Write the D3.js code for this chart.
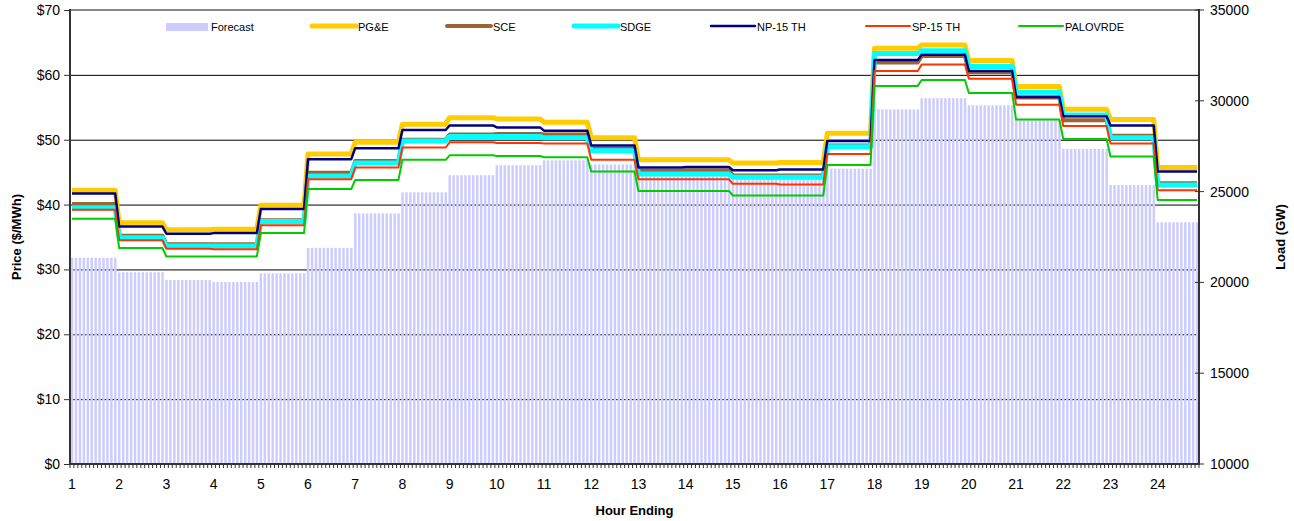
<html>
<head>
<meta charset="utf-8">
<title>Hourly prices</title>
<script src="https://d3js.org/d3.v7.min.js"></script>
<style>
  body { margin: 0; background: #fff; }
  text { font-family: "Liberation Sans", Arial, sans-serif; fill: #000; }
</style>
</head>
<body>
<div id="chart"></div>
<script>
// hourly values (hour ending 1..24)
var hours = d3.range(1, 25);
var forecast = [21360, 20560, 20130, 20020, 20500, 21900, 23800, 24960, 25900, 26450, 26720, 26500,
                26000, 25900, 25800, 25800, 26260, 29530, 30140, 29750, 28940, 27350, 25360, 23310];
var pge  = [42.2, 37.2, 36.1, 36.2, 39.9, 47.8, 49.6, 52.4, 53.4, 53.2, 52.7, 50.3, 46.9, 46.9, 46.4, 46.5, 51.0, 64.1, 64.6, 62.2, 58.2, 54.7, 53.1, 45.7];
var sce  = [40.1, 35.2, 33.9, 33.9, 37.6, 44.9, 46.7, 50.0, 50.8, 50.9, 50.8, 48.6, 45.2, 45.3, 44.5, 44.5, 49.1, 61.9, 62.9, 60.4, 56.5, 53.0, 50.6, 43.3];
var sdge = [39.5, 34.9, 33.6, 33.6, 37.4, 44.4, 46.4, 49.8, 50.5, 50.5, 50.3, 48.3, 44.7, 44.7, 44.2, 44.2, 48.9, 63.3, 63.7, 61.3, 57.3, 53.8, 50.3, 43.0];
var np15 = [41.7, 36.6, 35.5, 35.6, 39.3, 47.0, 48.7, 51.5, 52.2, 51.9, 51.4, 49.1, 45.7, 45.8, 45.3, 45.4, 49.8, 62.3, 63.1, 60.6, 56.6, 53.6, 52.2, 45.1];
var sp15 = [39.2, 34.5, 33.2, 33.1, 36.8, 43.9, 45.7, 48.8, 49.6, 49.5, 49.4, 46.9, 43.9, 43.9, 43.2, 43.1, 47.8, 60.6, 61.6, 59.4, 55.4, 52.1, 49.4, 42.2];
var palo = [37.8, 33.3, 32.0, 32.0, 35.6, 42.4, 43.8, 46.9, 47.6, 47.5, 47.3, 45.1, 42.1, 42.1, 41.4, 41.4, 46.1, 58.3, 59.2, 57.2, 53.1, 50.1, 47.4, 40.7];
var priceTicks = [0, 10, 20, 30, 40, 50, 60, 70];
var loadTicks = [10000, 15000, 20000, 25000, 30000, 35000];

var series = [
    {name: "PG&E",     values: pge,  color: "#ffcc00", width: 5},
    {name: "SCE",      values: sce,  color: "#996633", width: 4},
    {name: "SDGE",     values: sdge, color: "#00ffff", width: 5},
    {name: "NP-15 TH", values: np15, color: "#000080", width: 2.5},
    {name: "SP-15 TH", values: sp15, color: "#ff3300", width: 2},
    {name: "PALOVRDE", values: palo, color: "#00cc00", width: 2}
];

// the chart is laid out in 5 minute slots, 12 per hour (last hour has 11)
var nSlots = 287;
function hourOf(i) { return Math.floor(i / 12); }

var width = 1294, height = 521;
var plotL = 70, plotR = 1199, plotT = 10, plotB = 464;

var svg = d3.select("#chart").append("svg").attr("width", width).attr("height", height);

var x = d3.scaleLinear().domain([0, nSlots]).range([plotL, plotR]);
var y = d3.scaleLinear().domain([0, 70]).range([plotB, plotT]);
var y2 = d3.scaleLinear().domain([10000, 35000]).range([plotB, plotT]);

// gridlines (bars are drawn over them)
svg.append("g").selectAll("line")
    .data(priceTicks.filter(function (d) { return d > 0 && d < 70; }))
    .enter().append("line")
    .attr("x1", plotL).attr("x2", plotR)
    .attr("y1", function (d) { return y(d) + 0.5; }).attr("y2", function (d) { return y(d) + 0.5; })
    .attr("stroke", "#000").attr("stroke-width", 1);

// forecast load bars
svg.append("g").selectAll("rect")
    .data(d3.range(nSlots))
    .enter().append("rect")
    .attr("x", function (i) { return x(i) + 0.8; })
    .attr("width", 2.5)
    .attr("y", function (i) { return y2(forecast[hourOf(i)]); })
    .attr("height", function (i) { return plotB - y2(forecast[hourOf(i)]); })
    .attr("fill", "#ccccff");

// price lines
var line = d3.line()
    .x(function (i) { return x(i + 0.5); });

series.forEach(function (s) {
    line.y(function (i) { return y(s.values[hourOf(i)]); });
    svg.append("path")
        .datum(d3.range(nSlots))
        .attr("d", line)
        .attr("fill", "none")
        .attr("stroke", s.color)
        .attr("stroke-width", s.width)
        .attr("stroke-linejoin", "round");
});

// frame
svg.append("line").attr("x1", plotL).attr("x2", plotR).attr("y1", plotT).attr("y2", plotT)
    .attr("stroke", "#888").attr("stroke-width", 2);
svg.append("line").attr("x1", plotL).attr("x2", plotL).attr("y1", plotT - 1).attr("y2", plotB + 1)
    .attr("stroke", "#333").attr("stroke-width", 2);
svg.append("line").attr("x1", plotR).attr("x2", plotR).attr("y1", plotT - 1).attr("y2", plotB + 1)
    .attr("stroke", "#333").attr("stroke-width", 2);
svg.append("line").attr("x1", plotL).attr("x2", plotR).attr("y1", plotB).attr("y2", plotB)
    .attr("stroke", "#333").attr("stroke-width", 2);

// left axis
var yAxis = svg.append("g")
    .attr("transform", "translate(" + (plotL - 1) + ",0)")
    .call(d3.axisLeft(y).tickValues(priceTicks).tickSize(5).tickPadding(4)
        .tickFormat(function (d) { return "$" + d; }));
yAxis.select(".domain").remove();
yAxis.selectAll("text").style("font-size", "14px").attr("font-family", null);
yAxis.selectAll("line").attr("stroke", "#333");

// right axis, ticks cross the axis line
var y2Axis = svg.append("g")
    .attr("transform", "translate(" + (plotR + 5) + ",0)")
    .call(d3.axisRight(y2).tickValues(loadTicks).tickSize(0).tickPadding(6)
        .tickFormat(d3.format("d")));
y2Axis.select(".domain").remove();
y2Axis.selectAll("text").style("font-size", "14px").attr("font-family", null);
svg.append("g").selectAll("line")
    .data(loadTicks).enter().append("line")
    .attr("x1", plotR - 4).attr("x2", plotR + 5)
    .attr("y1", function (d) { return y2(d); }).attr("y2", function (d) { return y2(d); })
    .attr("stroke", "#333");

// x axis: minor ticks every slot, label each hour
svg.append("g").selectAll("line")
    .data(d3.range(nSlots + 1)).enter().append("line")
    .attr("x1", function (i) { return x(i); }).attr("x2", function (i) { return x(i); })
    .attr("y1", plotB).attr("y2", plotB + 4)
    .attr("stroke", "#333").attr("stroke-width", 1);
svg.append("g").selectAll("text")
    .data(hours).enter().append("text")
    .attr("x", function (h) { return x((h - 1) * 12 + 0.5); })
    .attr("y", plotB + 25)
    .attr("text-anchor", "middle")
    .style("font-size", "14px")
    .text(function (h) { return h; });

// axis titles
svg.append("text")
    .attr("transform", "translate(21," + ((plotT + plotB) / 2) + ") rotate(-90)")
    .attr("text-anchor", "middle")
    .style("font-size", "13px").style("font-weight", "bold")
    .text("Price ($/MWh)");
svg.append("text")
    .attr("transform", "translate(1285," + ((plotT + plotB) / 2) + ") rotate(-90)")
    .attr("text-anchor", "middle")
    .style("font-size", "13px").style("font-weight", "bold")
    .text("Load (GW)");
svg.append("text")
    .attr("x", (plotL + plotR) / 2).attr("y", 515)
    .attr("text-anchor", "middle")
    .style("font-size", "13px").style("font-weight", "bold")
    .text("Hour Ending");

// legend
var legendX = [166, 312, 447, 574, 711, 866, 1019];
var legendY = 27;
var lg = svg.append("g");
lg.append("rect").attr("x", legendX[0]).attr("y", legendY - 4).attr("width", 42).attr("height", 8)
    .attr("fill", "#ccccff");
lg.append("text").attr("x", legendX[0] + 45).attr("y", legendY + 4)
    .style("font-size", "11px").text("Forecast");
series.forEach(function (s, k) {
    var lx = legendX[k + 1];
    lg.append("line").attr("x1", lx).attr("x2", lx + 44)
        .attr("y1", legendY - 1).attr("y2", legendY - 1)
        .attr("stroke", s.color).attr("stroke-width", s.width)
        .attr("stroke-linecap", "round");
    lg.append("text").attr("x", lx + 46).attr("y", legendY + 4)
        .style("font-size", "11px").text(s.name);
});
</script>
</body>
</html>
